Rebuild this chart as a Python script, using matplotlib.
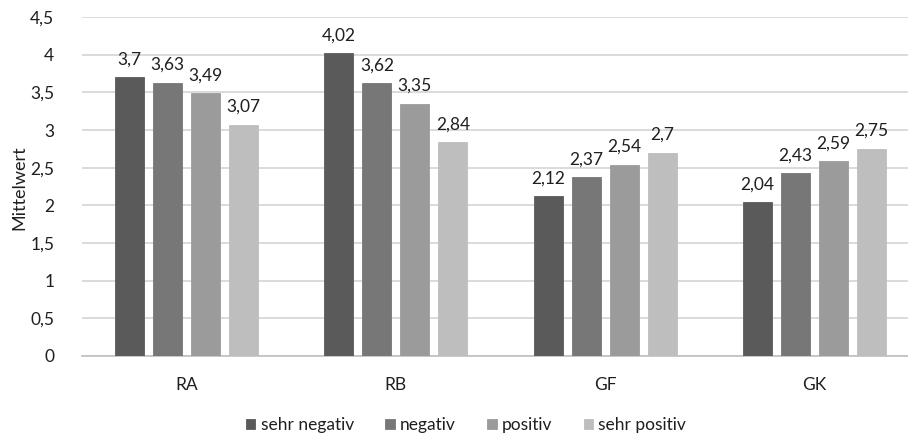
import matplotlib
matplotlib.use("Agg")
import matplotlib.pyplot as plt
import numpy as np

# ==================== Daten ====================
CATEGORIES = ["RA", "RB", "GF", "GK"]
SERIES = ["sehr negativ", "negativ", "positiv", "sehr positiv"]
SEHR_NEGATIV = [3.70, 4.02, 2.12, 2.04]
NEGATIV = [3.63, 3.62, 2.37, 2.43]
POSITIV = [3.49, 3.35, 2.54, 2.59]
SEHR_POSITIV = [3.07, 2.84, 2.70, 2.75]
Y_TICKS = [0, 0.5, 1, 1.5, 2, 2.5, 3, 3.5, 4, 4.5]

COLORS = ["#5a5a5a", "#777777", "#9b9b9b", "#bebebe"]
TEXT_COLOR = "#1f1f1f"


def fmt(v):
    return f"{v:g}".replace(".", ",")


def main():
    plt.rcParams["font.family"] = ["Lato", "DejaVu Sans"]

    fig = plt.figure(figsize=(9.08, 4.38), dpi=100)
    ax = fig.add_axes([82 / 908, 82 / 438, 837 / 908, 339 / 438])

    values = [SEHR_NEGATIV, NEGATIV, POSITIV, SEHR_POSITIV]
    x = np.arange(len(CATEGORIES))
    step = 0.1816
    width = 0.139

    handles = []
    for i, (name, vals, color) in enumerate(zip(SERIES, values, COLORS)):
        pos = x + (i - 1.5) * step
        bars = ax.bar(pos, vals, width=width, color=color, edgecolor=color,
                      linewidth=0.6, label=name, zorder=3)
        handles.append(bars)
        for p, v in zip(pos, vals):
            ax.annotate(fmt(v), (p, v), xytext=(0, 7), textcoords="offset points",
                        ha="center", va="bottom", fontsize=12.5, color=TEXT_COLOR)

    ax.set_xlim(-0.5, len(CATEGORIES) - 0.5)
    ax.set_ylim(0, 4.5)
    ax.set_yticks(Y_TICKS)
    ax.set_yticklabels([fmt(t) for t in Y_TICKS])
    ax.set_xticks(x)
    ax.set_xticklabels(CATEGORIES)
    ax.tick_params(axis="both", length=0, labelsize=12.5, colors=TEXT_COLOR)
    ax.tick_params(axis="x", pad=15)
    ax.tick_params(axis="y", pad=20)
    ax.grid(axis="y", color="#d4d4d4", linewidth=1.2, zorder=0)
    ax.set_axisbelow(True)
    for side in ["top", "right", "left"]:
        ax.spines[side].set_visible(False)
    ax.spines["bottom"].set_color("#bfbfbf")
    ax.spines["bottom"].set_linewidth(1.2)

    fig.text(19 / 908, 1 - 188 / 438, "Mittelwert", rotation=90, ha="center",
             va="center", fontsize=13, color=TEXT_COLOR)

    fig.legend(handles, SERIES, loc="center", bbox_to_anchor=(466 / 908, 1 - 425 / 438),
               ncol=4, frameon=False, fontsize=12.5, handlelength=0.55, handleheight=0.55,
               handletextpad=0.3, columnspacing=1.8, labelcolor=TEXT_COLOR)

    fig.savefig("out.png", dpi=100)


if __name__ == "__main__":
    main()
